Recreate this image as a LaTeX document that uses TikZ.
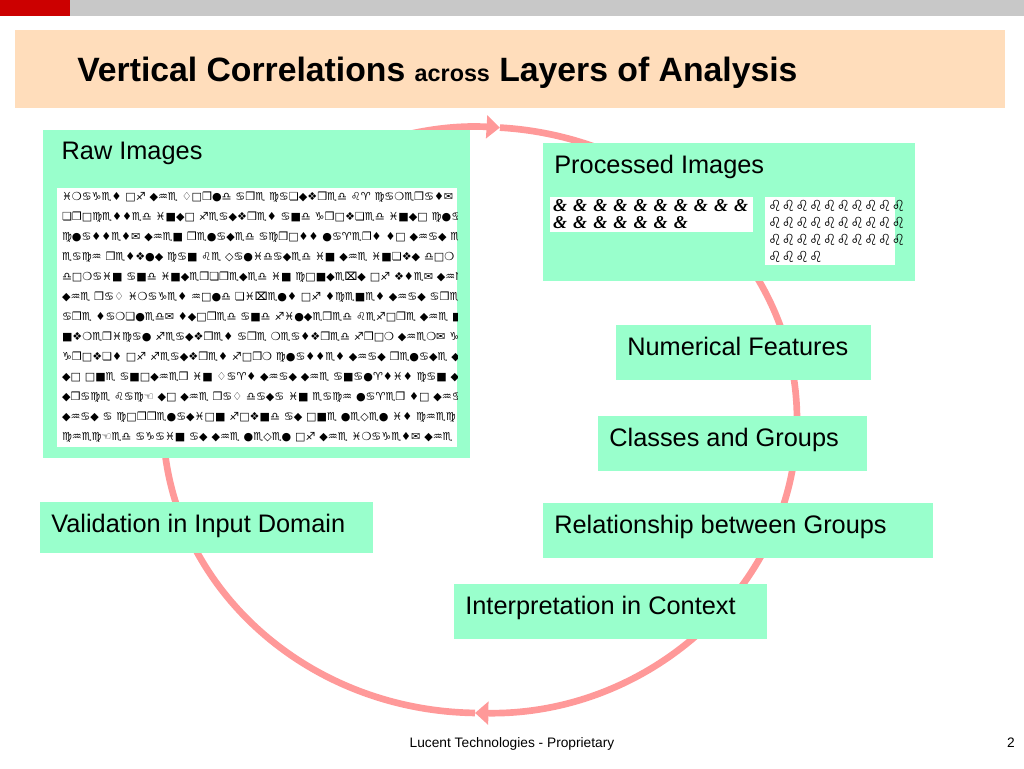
\documentclass[tikz,border=0pt]{standalone}
\usepackage{fontspec}
\setmainfont{Liberation Sans}
\newfontfamily\wingfont{DejaVu Sans}
\newfontfamily\ampfont{Liberation Serif}
\usetikzlibrary{arrows.meta, positioning, fit}

\definecolor{layergreen}{RGB}{153,255,204}
\definecolor{cyclepink}{RGB}{255,153,153}
\definecolor{titlepeach}{RGB}{255,221,187}
\definecolor{barred}{RGB}{204,0,0}
\definecolor{bargray}{RGB}{200,200,200}

\newcommand{\etsep}{\hspace{4.6pt}}

\tikzset{
    layerbox/.style={rectangle, inner sep=0pt, fill=layergreen},
    imgbox/.style={rectangle, inner sep=0pt, fill=white},
    layerlbl/.style={anchor=north west, inner xsep=8.5pt, inner ysep=9pt, font=\fontsize{19}{22}\selectfont},
    glyphs/.style={anchor=north west, inner sep=0pt, align=left, font=\wingfont\bfseries\fontsize{8.3}{15}\selectfont},
    cyclearrow/.style={line width=5pt, color=cyclepink, -{Triangle[length=10pt, width=17pt]}}
}

\begin{document}
\begin{tikzpicture}[x=0.75pt, y=-0.75pt]
    \useasboundingbox (0,0) rectangle (1024,768);

    % --- EN-TETE ---
    \fill [barred] (0,0) rectangle (70,16);
    \fill [bargray] (70,0) rectangle (1024,16);
    \node (titlebar) [fit={(15,30) (1005,108)}, inner sep=0pt, fill=titlepeach] {};
    \node (title) [anchor=base west, inner sep=0pt, font=\bfseries\fontsize{25.3}{30}\selectfont] at (77,81)
        {Vertical Correlations {\fontsize{17.5}{20}\selectfont across} Layers of Analysis};

    % --- CYCLE ---
    \coordinate (ctr) at (480,420);
    \coordinate (cycbot) at ([shift={(90.9:317 and 293)}]ctr);
    \coordinate (cyctop) at ([shift={(273.6:317 and 293)}]ctr);
    \draw [cyclearrow] (cycbot) arc[start angle=90.9, end angle=273.6, x radius=317, y radius=293];
    \draw [cyclearrow] (cyctop) arc[start angle=273.6, end angle=450.9, x radius=317, y radius=293];

    % --- COUCHES ---
    \node (rawbox) [layerbox, fit={(43,130) (470,458)}] {};
    \node (rawlbl) [layerlbl, inner xsep=14pt] at (rawbox.north west) {Raw Images};
    \node (rawimg) [imgbox, fit={(57,188) (457,447)}] {};
    \begin{scope}
        \clip (rawimg.north west) rectangle (rawimg.south east);
        \node (rawtext) [glyphs] at ([shift={(5,4)}]rawimg.north west) {%
            ♓❍♋♑♏♦ □♐ ◆♒♏ ♢□❒●♎ ♋❒♏ ♍♋❏◆❖❒♏♎ ♌♈ ♍♋❍♏❒♋♦✉ ♋■♎\\
            ❏❒□♍♏♦♦♏♎ ♓■◆□ ♐♏♋◆❖❒♏♦ ♋■♎ ♑❒□❖❏♏♎ ♓■◆□ ♍●♋♦♦\\
            ♍●♋♦♦♏♦✉ ◆♒♏■ ❒♏●♋◆♏♎ ♋♍❒□♦♦ ●♋♈♏❒♦ ♦□ ◆♒♋◆ ♏♋♍♒\\
            ♏♋♍♒ ❒♏♦❖●◆ ♍♋■ ♌♏ ◇♋●♓♎♋◆♏♎ ♓■ ◆♒♏ ♓■❏❖◆ ♎□❍\\
            ♎□❍♋♓■ ♋■♎ ♓■◆♏❒❏❒♏◆♏♎ ♓■ ♍□■◆♏⌧◆ □♐ ❖♦♏✉ ◆♒♏\\
            ◆♒♏ ❒♋♢ ♓❍♋♑♏♦ ♒□●♎ ❏♓⌧♏●♦ □♐ ♦♍♏■♏♦ ◆♒♋◆ ♋❒♏\\
            ♋❒♏ ♦♋❍❏●♏♎✉ ♦◆□❒♏♎ ♋■♎ ♐♓●◆♏❒♏♎ ♌♏♐□❒♏ ◆♒♏ ■❖❍\\
            ■❖❍♏❒♓♍♋● ♐♏♋◆❖❒♏♦ ♋❒♏ ❍♏♋♦❖❒♏♎ ♐❒□❍ ◆♒♏❍✉ ♑❒□\\
            ♑❒□❖❏♦ □♐ ♐♏♋◆❖❒♏♦ ♐□❒❍ ♍●♋♦♦♏♦ ◆♒♋◆ ❒♏●♋◆♏ ◆□\\
            ◆□ □■♏ ♋■□◆♒♏❒ ♓■ ♢♋♈♦ ◆♒♋◆ ◆♒♏ ♋■♋●♈♦♓♦ ♍♋■ ◆❒\\
            ◆❒♋♍♏ ♌♋♍☜ ◆□ ◆♒♏ ❒♋♢ ♎♋◆♋ ♓■ ♏♋♍♒ ●♋♈♏❒ ♦□ ◆♒♋\\
            ◆♒♋◆ ♋ ♍□❒❒♏●♋◆♓□■ ♐□❖■♎ ♋◆ □■♏ ●♏◇♏● ♓♦ ♍♒♏♍\\
            ♍♒♏♍☜♏♎ ♋♑♋♓■ ♋◆ ◆♒♏ ●♏◇♏● □♐ ◆♒♏ ♓❍♋♑♏♦✉ ◆♒♏};
    \end{scope}

    \node (procbox) [layerbox, fit={(543,143) (915,281)}] {};
    \node (proclbl) [layerlbl] at (procbox.north west) {Processed Images};
    \node (procimga) [imgbox, fit={(550,197) (753,232)}] {};
    \node (procimgb) [imgbox, fit={(765,197) (895,265)}] {};
    \node (proctexta) [anchor=north west, inner sep=0pt, align=left, font=\ampfont\bfseries\itshape\fontsize{13.5}{12.75}\selectfont]
        at ([shift={(3,3)}]procimga.north west)
        {\&\etsep\&\etsep\&\etsep\&\etsep\&\etsep\&\etsep\&\etsep\&\etsep\&\etsep\&\\
         \&\etsep\&\etsep\&\etsep\&\etsep\&\etsep\&\etsep\&};
    \node (proctextb) [anchor=north west, inner sep=0pt, align=left, font=\wingfont\bfseries\fontsize{11.5}{12.75}\selectfont]
        at ([shift={(3,3)}]procimgb.north west) {♌♌♌♌♌♌♌♌♌♌\\ ♌♌♌♌♌♌♌♌♌♌\\ ♌♌♌♌♌♌♌♌♌♌\\ ♌♌♌♌};

    \node (featbox) [layerbox, fit={(616,325) (871,380)}] {};
    \node (featlbl) [layerlbl] at (featbox.north west) {Numerical Features};

    \node (classbox) [layerbox, fit={(598,416) (867,471)}] {};
    \node (classlbl) [layerlbl] at (classbox.north west) {Classes and Groups};

    \node (relbox) [layerbox, fit={(543,503) (933,558)}] {};
    \node (rellbl) [layerlbl] at (relbox.north west) {Relationship between Groups};

    \node (interpbox) [layerbox, fit={(454,584) (767,639)}] {};
    \node (interplbl) [layerlbl] at (interpbox.north west) {Interpretation in Context};

    \node (validbox) [layerbox, fit={(40,502) (373,553)}] {};
    \node (validlbl) [layerlbl] at (validbox.north west) {Validation in Input Domain};

    % --- PIED DE PAGE ---
    \node (footer) [anchor=base, inner sep=0pt, font=\fontsize{10.3}{12}\selectfont] at (512,747) {Lucent Technologies - Proprietary};
    \node (pagenum) [anchor=base east, inner sep=0pt, font=\fontsize{10.3}{12}\selectfont] at (1015,747) {2};

\end{tikzpicture}
\end{document}
